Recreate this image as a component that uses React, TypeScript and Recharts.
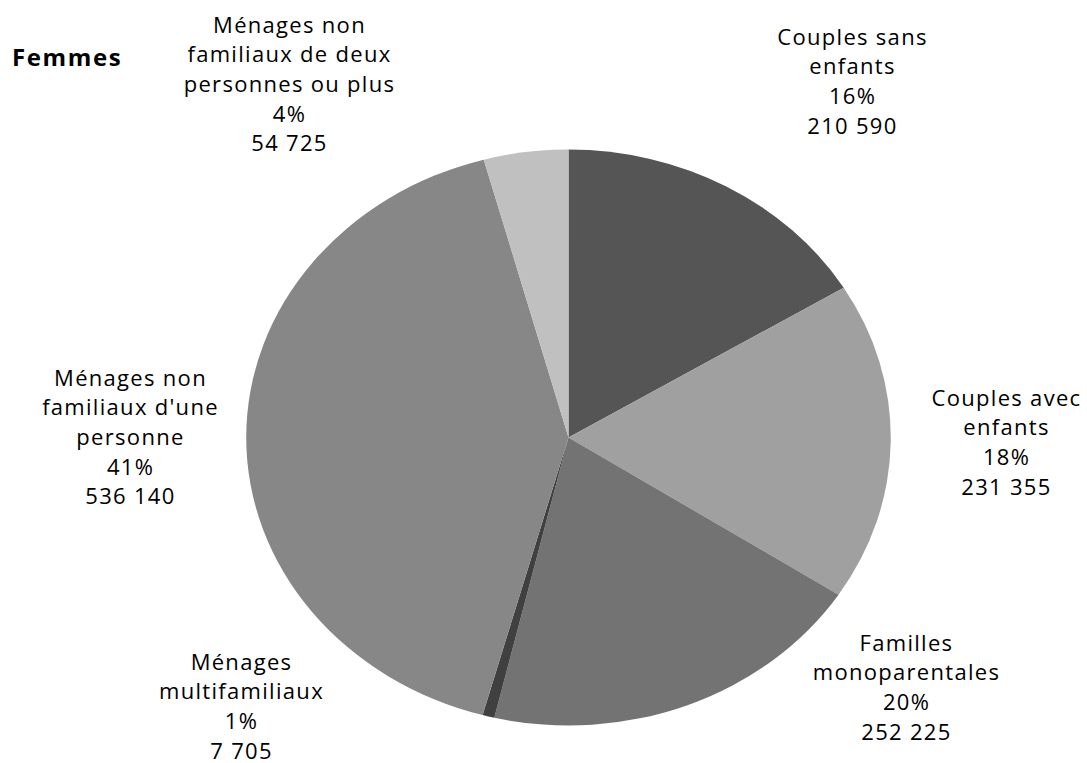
import { PieChart, Pie, Cell } from 'recharts'

// Répartition des ménages - Femmes
const categories = [
  'Couples sans enfants',
  'Couples avec enfants',
  'Familles monoparentales',
  'Ménages multifamiliaux',
  "Ménages non familiaux d'une personne",
  'Ménages non familiaux de deux personnes ou plus',
]
const values = [210590, 231355, 252225, 7705, 536140, 54725]

// how each category name wraps in its label
const nameLines = [
  ['Couples sans', 'enfants'],
  ['Couples avec', 'enfants'],
  ['Familles', 'monoparentales'],
  ['Ménages', 'multifamiliaux'],
  ['Ménages non', "familiaux d'une", 'personne'],
  ['Ménages non', 'familiaux de deux', 'personnes ou plus'],
]

const colors = ['#555555', '#a0a0a0', '#737373', '#404040', '#878787', '#c0c0c0']

// label block anchors, relative to the pie centre (centre x, first line middle y)
const labelPos = [
  [284, -401],
  [438, -40],
  [338, 205],
  [-327, 224],
  [-438, -60],
  [-279, -413],
]

const W = 1087
const H = 763
const CX = 568.5
const CY = 437.5
const R = 288
const STRETCH = 1.119
const LINE = 29.7

const data = categories.map((name, i) => ({ name, value: values[i] }))

const fmt = (n: number) => n.toString().replace(/\B(?=(\d{3})+(?!\d))/g, ' ')

const renderLabel = (props: any) => {
  const { cx, cy, index, percent, value } = props
  const [dx, dy] = labelPos[index]
  const lines = [...nameLines[index], Math.round(percent * 100) + '%', fmt(value)]
  return (
    <text
      x={cx + dx}
      y={cy + dy + 8}
      textAnchor="middle"
      fill="#000"
      fontSize={22}
      letterSpacing={1.3}
      fontFamily="'Open Sans', sans-serif"
    >
      {lines.map((l, k) => (
        <tspan key={k} x={cx + dx} dy={k === 0 ? 0 : LINE}>
          {l}
        </tspan>
      ))}
    </text>
  )
}

const App = () => {
  return (
    <div style={{ position: 'absolute', left: 0, top: 0, width: W, height: H, background: '#fff' }}>
      {/* the pie itself, stretched horizontally like the original ellipse */}
      <div
        style={{
          position: 'absolute',
          left: 0,
          top: 0,
          width: W,
          height: H,
          transform: `scaleX(${STRETCH})`,
          transformOrigin: `${CX}px ${CY}px`,
        }}
      >
        <PieChart width={W} height={H} margin={{ top: 0, right: 0, bottom: 0, left: 0 }}>
          <Pie
            data={data}
            dataKey="value"
            nameKey="name"
            cx={CX}
            cy={CY}
            outerRadius={R}
            startAngle={90}
            endAngle={-270}
            stroke="none"
            isAnimationActive={false}
          >
            {data.map((d, i) => (
              <Cell key={d.name} fill={colors[i]} />
            ))}
          </Pie>
        </PieChart>
      </div>

      {/* labels, not stretched */}
      <div style={{ position: 'absolute', left: 0, top: 0, width: W, height: H }}>
        <PieChart width={W} height={H} margin={{ top: 0, right: 0, bottom: 0, left: 0 }}>
          <Pie
            data={data}
            dataKey="value"
            nameKey="name"
            cx={CX}
            cy={CY}
            outerRadius={R}
            startAngle={90}
            endAngle={-270}
            fill="none"
            stroke="none"
            label={renderLabel}
            labelLine={false}
            isAnimationActive={false}
          />
        </PieChart>
      </div>

      <div
        style={{
          position: 'absolute',
          left: 12,
          top: 40,
          fontFamily: "'Open Sans', sans-serif",
          fontWeight: 700,
          fontSize: 24,
          letterSpacing: 1.6,
          color: '#000',
          lineHeight: '34px',
        }}
      >
        Femmes
      </div>
    </div>
  )
}

export default App
